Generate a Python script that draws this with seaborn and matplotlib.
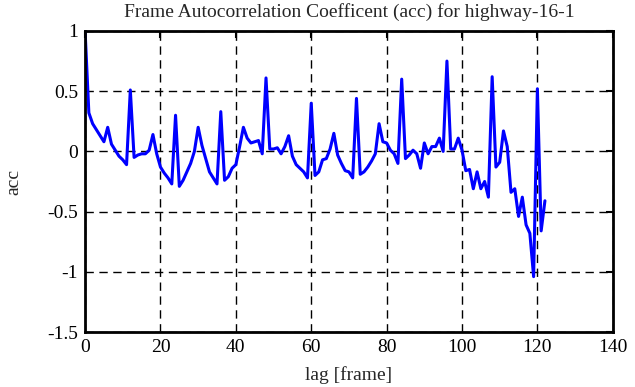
import matplotlib
matplotlib.use("Agg")
import matplotlib.pyplot as plt
import numpy as np
import pandas as pd
import seaborn as sns

# autocorrelation values, lag 0..122
lag = np.arange(0, 123)
acc = [
    1.00, 0.32, 0.23, 0.18, 0.13, 0.08, 0.20, 0.06, 0.01, -0.04,
    -0.07, -0.11, 0.51, -0.05, -0.03, -0.02, -0.02, 0.01, 0.14, -0.02,
    -0.13, -0.18, -0.22, -0.27, 0.30, -0.29, -0.24, -0.17, -0.10, 0.00,
    0.20, 0.05, -0.06, -0.17, -0.22, -0.27, 0.33, -0.24, -0.21, -0.14,
    -0.11, 0.04, 0.20, 0.11, 0.07, 0.08, 0.09, -0.02, 0.61, 0.02,
    0.02, 0.03, -0.02, 0.04, 0.13, -0.04, -0.11, -0.14, -0.17, -0.22,
    0.40, -0.20, -0.17, -0.07, -0.06, 0.02, 0.15, -0.03, -0.10, -0.16,
    -0.17, -0.22, 0.44, -0.19, -0.17, -0.13, -0.08, -0.02, 0.23, 0.08,
    0.07, 0.01, -0.02, -0.10, 0.60, -0.06, -0.03, 0.01, -0.02, -0.14,
    0.07, -0.02, 0.04, 0.04, 0.11, 0.00, 0.75, 0.02, 0.02, 0.11,
    0.01, -0.16, -0.15, -0.31, -0.17, -0.31, -0.25, -0.38, 0.62, -0.13,
    -0.09, 0.17, 0.04, -0.34, -0.31, -0.54, -0.38, -0.61, -0.68, -1.04,
    0.52, -0.66, -0.41,
]

x_ticks = [0, 20, 40, 60, 80, 100, 120, 140]
y_ticks = [-1.5, -1, -0.5, 0, 0.5, 1]
y_tick_labels = ["-1.5", "-1", "-0.5", "0", "0.5", "1"]

sns.set_style("white")
plt.rcParams["font.family"] = ["Liberation Serif", "DejaVu Serif"]
plt.rcParams["font.size"] = 14

df = pd.DataFrame({"lag": lag, "acc": acc})

fig = plt.figure(figsize=(6.35, 3.87), dpi=100)
ax = fig.add_axes([0.134, 0.142, 0.831, 0.778])

sns.lineplot(data=df, x="lag", y="acc", color="#0000ff", linewidth=2.2, ax=ax)

ax.set_xlim(0, 140)
ax.set_ylim(-1.5, 1)
ax.set_xticks(x_ticks)
ax.set_yticks(y_ticks)
ax.set_yticklabels(y_tick_labels)
ax.tick_params(direction="in", length=5, width=1.5, top=True, right=True,
               labelsize=14, pad=5, colors="black")
ax.grid(True, color="black", linestyle=(0, (6, 4)), linewidth=1)
for spine in ax.spines.values():
    spine.set_visible(True)
    spine.set_color("black")
    spine.set_linewidth(2)

ax.set_title("Frame Autocorrelation Coefficent (acc) for highway-16-1", fontsize=14, pad=10)
ax.set_xlabel("lag [frame]", fontsize=14, labelpad=7)
ax.set_ylabel("acc", fontsize=14, labelpad=18)

fig.savefig("out.png", dpi=100)
plt.close(fig)
